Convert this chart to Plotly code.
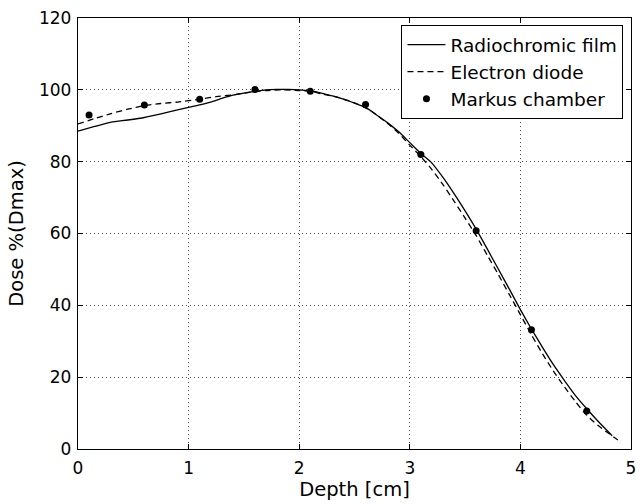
import plotly.graph_objects as go

film_x = [0.0, 0.15, 0.3, 0.45, 0.6, 0.75, 0.9, 1.0, 1.1, 1.2, 1.3, 1.4, 1.5, 1.6, 1.7, 1.8, 1.9, 2.0, 2.1, 2.2, 2.3, 2.4, 2.5, 2.6, 2.7, 2.8, 2.9, 3.0, 3.1, 3.2, 3.3, 3.4, 3.5, 3.6, 3.7, 3.8, 3.9, 4.0, 4.1, 4.2, 4.3, 4.4, 4.5, 4.6, 4.7, 4.83]
film_y = [88.5, 89.8, 91.0, 91.6, 92.3, 93.3, 94.4, 95.1, 95.8, 96.6, 97.6, 98.5, 99.1, 99.6, 100.0, 100.1, 100.1, 100.0, 99.7, 99.1, 98.3, 97.4, 96.3, 95.1, 93.0, 90.8, 88.3, 85.3, 82.3, 79.6, 75.6, 71.1, 66.3, 61.2, 55.7, 50.1, 44.5, 38.8, 33.4, 28.3, 23.4, 19.0, 14.8, 11.2, 7.8, 3.7]

diode_x = [0.0, 0.15, 0.3, 0.45, 0.6, 0.75, 0.9, 1.1, 1.25, 1.4, 1.55, 1.7, 1.85, 2.0, 2.1, 2.2, 2.35, 2.5, 2.65, 2.8, 2.9, 3.0, 3.1, 3.2, 3.3, 3.4, 3.5, 3.6, 3.7, 3.8, 3.9, 4.0, 4.1, 4.2, 4.3, 4.4, 4.5, 4.6, 4.7, 4.8, 4.91]
diode_y = [90.5, 92.0, 93.4, 94.6, 95.6, 96.2, 96.6, 97.4, 98.1, 98.6, 99.3, 99.8, 100.0, 99.8, 99.6, 98.9, 97.9, 96.4, 94.1, 90.6, 87.9, 84.6, 81.4, 77.8, 73.6, 69.0, 64.3, 59.4, 54.0, 48.6, 43.0, 37.4, 31.8, 26.5, 21.6, 17.2, 13.1, 9.4, 6.6, 4.3, 1.9]

markus_x = [0.1, 0.6, 1.1, 1.6, 2.1, 2.6, 3.1, 3.6, 4.1, 4.6]
markus_y = [93.0, 95.8, 97.4, 100.1, 99.6, 95.9, 82.0, 60.8, 33.2, 10.6]

fig = go.Figure()
fig.add_trace(go.Scatter(x=film_x, y=film_y, mode="lines", name="Radiochromic film",
                         line=dict(color="black", width=1.3, shape="spline", smoothing=0.6)))
fig.add_trace(go.Scatter(x=diode_x, y=diode_y, mode="lines", name="Electron diode",
                         line=dict(color="black", width=1.3, dash="6px,4px", shape="spline", smoothing=0.6)))
fig.add_trace(go.Scatter(x=markus_x, y=markus_y, mode="markers", name="Markus chamber",
                         marker=dict(color="black", size=7)))

axis_common = dict(showline=True, linecolor="black", linewidth=1.3, mirror="ticks",
                   ticks="inside", ticklen=5, tickcolor="black", tickwidth=1,
                   showgrid=True, gridcolor="rgba(0,0,0,0.7)", griddash="1px,3px", gridwidth=1,
                   zeroline=False, tickfont=dict(size=17, color="black"))

fig.update_xaxes(range=[0, 5], dtick=1, ticklabelstandoff=3,
                 title=dict(text="Depth [cm]", font=dict(size=19.5, color="black"), standoff=4), **axis_common)
fig.update_yaxes(range=[0, 120], dtick=20, ticklabelstandoff=2,
                 title=dict(text="Dose %(Dmax)", font=dict(size=19.5, color="black"), standoff=10), **axis_common)

fig.update_layout(
    width=642, height=504,
    margin=dict(l=78, r=6, t=18, b=55),
    paper_bgcolor="white", plot_bgcolor="white",
    font=dict(family="DejaVu Sans", color="black"),
    legend=dict(x=0.986, y=0.984, xanchor="right", yanchor="top",
                bgcolor="white", bordercolor="black", borderwidth=1.2,
                font=dict(size=18.5, color="black"), tracegroupgap=0, itemwidth=38),
    showlegend=True,
)

fig.write_html("out.html")
